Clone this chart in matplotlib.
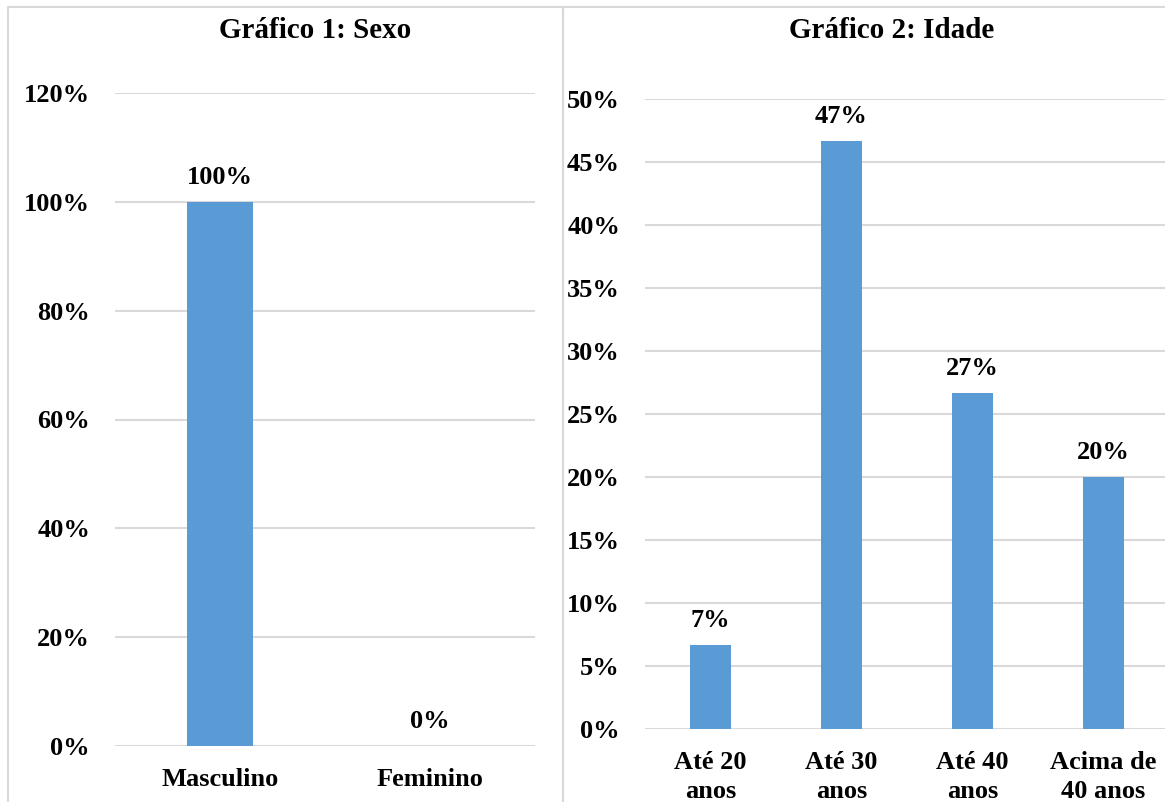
import matplotlib.pyplot as plt
from matplotlib.patches import Rectangle
from matplotlib.ticker import FuncFormatter

plt.rcParams["font.family"] = ["Liberation Serif", "DejaVu Serif"]
plt.rcParams["font.weight"] = "bold"

# Gráfico 1: Sexo
sexo_labels = ["Masculino", "Feminino"]
sexo_values = [100, 0]
sexo_ticks = [0, 20, 40, 60, 80, 100, 120]

# Gráfico 2: Idade
idade_labels = ["Até 20\nanos", "Até 30\nanos", "Até 40\nanos", "Acima de\n40 anos"]
idade_values = [6.67, 46.67, 26.67, 20.0]
idade_ticks = [0, 5, 10, 15, 20, 25, 30, 35, 40, 45, 50]

BAR = "#5b9bd5"
GRID = "#d9d9d9"
FS = 19

W, H = 1165, 802
fig = plt.figure(figsize=(W / 100, H / 100), dpi=100)


def px(x0, y0, x1, y1):
    # pixel box (top-left origin) -> figure fraction rect
    return [x0 / W, 1 - y1 / H, (x1 - x0) / W, (y1 - y0) / H]


# panel frames
for x0, x1 in [(8, 563), (563, 1180)]:
    fig.patches.append(Rectangle((x0 / W, -0.05), (x1 - x0) / W, 1.05 - 7 / H,
                                 transform=fig.transFigure, fill=False,
                                 edgecolor=GRID, linewidth=1.5))


def bar_panel(rect, labels, values, ticks, title, title_x):
    ax = fig.add_axes(rect)
    xs = range(len(labels))
    ax.bar(xs, values, width=0.31, color=BAR, zorder=3)
    ax.set_xlim(-0.5, len(labels) - 0.5)
    ax.set_ylim(ticks[0], ticks[-1])
    ax.set_yticks(ticks)
    ax.yaxis.set_major_formatter(FuncFormatter(lambda v, p: f"{v:.0f}%"))
    ax.set_xticks(list(xs))
    ax.set_xticklabels(labels, fontsize=FS, fontweight="bold", linespacing=1.3)
    ax.tick_params(axis="y", labelsize=FS, length=0, pad=18)
    ax.tick_params(axis="x", length=0, pad=16)
    ax.grid(axis="y", color=GRID, linewidth=1.5, zorder=0)
    ax.set_axisbelow(True)
    for s in ax.spines.values():
        s.set_visible(False)
    for x, v in zip(xs, values):
        ax.annotate(f"{v:.0f}%", (x, v), xytext=(0, 9), textcoords="offset points",
                    ha="center", va="bottom", fontsize=FS, fontweight="bold")
    fig.text(title_x / W, 1 - 30 / H, title, ha="center", va="center",
             fontsize=21, fontweight="bold")
    return ax


bar_panel(px(115, 93, 535, 746), sexo_labels, sexo_values, sexo_ticks,
          "Gráfico 1: Sexo", 315)
bar_panel(px(645, 99, 1169, 729), idade_labels, idade_values, idade_ticks,
          "Gráfico 2: Idade", 892)

fig.savefig("out.png", dpi=100, facecolor="white")
